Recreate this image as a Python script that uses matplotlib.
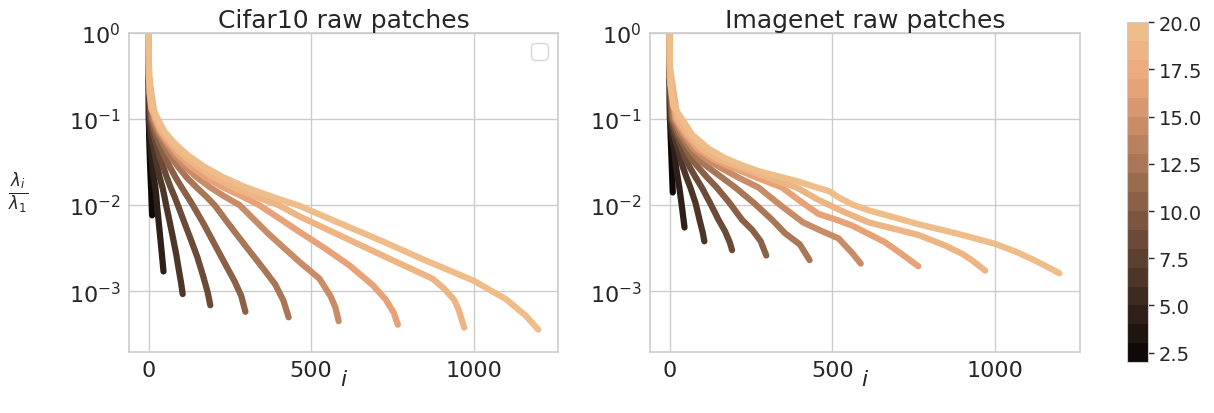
import colorsys
import numpy as np
import matplotlib
matplotlib.use("Agg")
import matplotlib.pyplot as plt
from matplotlib.colors import ListedColormap, BoundaryNorm
from matplotlib.cm import ScalarMappable

# patch sizes (p x p x 3 patches), one spectrum per size
patch_sizes = [2, 4, 6, 8, 10, 12, 14, 16, 18, 20]

# normalised eigenvalues lambda_i / lambda_1, sampled along each spectrum
cifar_idx = [
    [0, 1, 2, 4, 6, 8, 10, 11],
    [0, 1, 3, 6, 9, 12, 16, 21, 24, 26, 31, 36, 41, 46],
    [0, 1, 3, 7, 13, 20, 27, 34, 43, 49, 54, 65, 75, 85, 94, 100, 105],
    [0, 1, 6, 13, 23, 33, 45, 56, 68, 80, 90, 110, 130, 150, 168, 182, 190],
    [0, 1, 9, 19, 33, 48, 65, 83, 102, 120, 136, 170, 200, 235, 265, 285, 298],
    [0, 1, 12, 26, 45, 65, 90, 117, 148, 178, 203, 250, 300, 350, 390, 415, 431],
    [0, 1, 17, 32, 55, 80, 112, 148, 190, 235, 280, 370, 464, 526, 560, 575, 585],
    [0, 1, 20, 36, 62, 92, 130, 175, 230, 290, 340, 400, 464, 540, 618, 690, 730, 755, 767],
    [0, 1, 3, 9, 23, 40, 70, 105, 150, 200, 260, 330, 400, 464, 560, 720, 874, 910, 940, 955, 971],
    [0, 1, 3, 11, 28, 48, 80, 120, 170, 230, 300, 380, 464, 587, 720, 850, 1000, 1100, 1161, 1199],
]
cifar_val = [
    [1.0, 0.1, 0.06, 0.035, 0.022, 0.015, 0.0095, 0.0076],
    [1.0, 0.1, 0.072, 0.052, 0.038, 0.028, 0.021, 0.016, 0.0125, 0.010, 0.0065, 0.0042, 0.0027, 0.0017],
    [1.0, 0.3, 0.1, 0.072, 0.052, 0.038, 0.028, 0.021, 0.016, 0.0125, 0.010, 0.0064, 0.0042, 0.0027,
     0.0017, 0.00126, 0.00093],
    [1.0, 0.3, 0.1, 0.072, 0.052, 0.038, 0.028, 0.021, 0.016, 0.0125, 0.010, 0.0063, 0.004, 0.0025,
     0.0015, 0.00097, 0.00069],
    [1.0, 0.3, 0.1, 0.072, 0.052, 0.038, 0.028, 0.021, 0.016, 0.0125, 0.010, 0.006, 0.0037, 0.0021,
     0.0013, 0.00089, 0.00058],
    [1.0, 0.3, 0.1, 0.072, 0.052, 0.038, 0.028, 0.021, 0.016, 0.0125, 0.010, 0.0058, 0.0033, 0.0019,
     0.0012, 0.00078, 0.0005],
    [1.0, 0.3, 0.1, 0.072, 0.052, 0.038, 0.028, 0.021, 0.016, 0.0125, 0.010, 0.0046, 0.0022, 0.0014,
     0.00088, 0.00065, 0.00045],
    [1.0, 0.3, 0.1, 0.072, 0.052, 0.038, 0.028, 0.021, 0.016, 0.0125, 0.010, 0.0071, 0.0049, 0.0032,
     0.002, 0.00118, 0.0008, 0.00056, 0.00041],
    [1.0, 0.4, 0.2, 0.13, 0.1, 0.072, 0.052, 0.038, 0.028, 0.021, 0.016, 0.0125, 0.010, 0.0074, 0.005,
     0.0026, 0.0014, 0.00107, 0.0008, 0.0006, 0.00038],
    [1.0, 0.5, 0.25, 0.14, 0.1, 0.072, 0.052, 0.038, 0.028, 0.021, 0.016, 0.0125, 0.0098, 0.0062,
     0.0038, 0.0023, 0.00133, 0.00081, 0.00052, 0.00036],
]

imnet_idx = [
    [0, 1, 3, 6, 8, 10],
    [0, 1, 6, 14, 17, 20, 25, 30, 36, 43, 46],
    [0, 1, 3, 12, 26, 34, 41, 52, 64, 80, 94, 102, 107],
    [0, 1, 6, 19, 38, 50, 62, 80, 99, 125, 150, 170, 185, 192],
    [0, 1, 9, 25, 50, 68, 88, 115, 145, 185, 222, 255, 280, 297],
    [0, 1, 12, 32, 62, 88, 118, 160, 202, 260, 314, 355, 400, 430],
    [0, 1, 17, 40, 74, 112, 154, 210, 273, 340, 410, 457, 519, 560, 587],
    [0, 1, 20, 47, 86, 135, 190, 265, 345, 400, 457, 510, 560, 662, 713, 764],
    [0, 1, 25, 54, 98, 150, 215, 300, 390, 457, 530, 611, 690, 764, 846, 900, 928, 969],
    [0, 1, 3, 12, 38, 70, 120, 170, 222, 270, 324, 390, 447, 490, 519, 560, 611, 690, 764, 880,
     1000, 1071, 1130, 1197],
]
imnet_val = [
    [1.0, 0.15, 0.07, 0.035, 0.022, 0.014],
    [1.0, 0.1, 0.068, 0.045, 0.036, 0.0275, 0.021, 0.016, 0.011, 0.0068, 0.0055],
    [1.0, 0.3, 0.1, 0.068, 0.045, 0.034, 0.0275, 0.021, 0.016, 0.0105, 0.0063, 0.0048, 0.0038],
    [1.0, 0.3, 0.1, 0.068, 0.045, 0.034, 0.0275, 0.021, 0.016, 0.0105, 0.0068, 0.005, 0.0037, 0.003],
    [1.0, 0.3, 0.1, 0.068, 0.045, 0.034, 0.0275, 0.021, 0.016, 0.0105, 0.0068, 0.0051, 0.0038, 0.0026],
    [1.0, 0.3, 0.1, 0.068, 0.045, 0.034, 0.0275, 0.021, 0.016, 0.0105, 0.0068, 0.0047, 0.0035, 0.0023],
    [1.0, 0.3, 0.1, 0.068, 0.045, 0.034, 0.0275, 0.021, 0.016, 0.010, 0.0063, 0.0052, 0.0041, 0.0028,
     0.0021],
    [1.0, 0.3, 0.1, 0.068, 0.045, 0.034, 0.0275, 0.021, 0.016, 0.0112, 0.0079, 0.0068, 0.0058, 0.0037,
     0.0027, 0.00195],
    [1.0, 0.4, 0.1, 0.068, 0.045, 0.034, 0.0275, 0.021, 0.016, 0.0115, 0.0085, 0.0063, 0.0053, 0.0045,
     0.0034, 0.0027, 0.0023, 0.00174],
    [1.0, 0.5, 0.25, 0.14, 0.1, 0.065, 0.045, 0.035, 0.029, 0.025, 0.022, 0.019, 0.0162, 0.0145,
     0.0123, 0.0102, 0.0087, 0.0072, 0.006, 0.0047, 0.00355, 0.0028, 0.0022, 0.00162],
]

titles = ["Cifar10 raw patches", "Imagenet raw patches"]
cbar_bounds = list(range(2, 21))

# desaturated copper palette, 18 steps
def desat(c, prop=0.75):
    h, l, s = colorsys.rgb_to_hls(*c[:3])
    return colorsys.hls_to_rgb(h, l, s * prop)

copper = plt.get_cmap("copper")
n_col = len(cbar_bounds) - 1
steps = np.linspace(0, 1, n_col + 2)[1:-1]
palette = [desat(copper(x)) for x in steps]
cmap = ListedColormap(palette)
norm = BoundaryNorm(cbar_bounds, cmap.N)

grey = "#cccccc"
txt = "#262626"
plt.rcParams.update({
    "font.family": "DejaVu Sans",
    "text.color": txt,
    "axes.labelcolor": txt,
    "xtick.color": txt,
    "ytick.color": txt,
    "axes.edgecolor": grey,
    "grid.color": grey,
    "lines.solid_capstyle": "round",
    "lines.solid_joinstyle": "round",
})

fig = plt.figure(figsize=(12.14, 4.14), dpi=100)
ax1 = fig.add_axes([0.1063, 0.148, 0.3534, 0.771])
ax2 = fig.add_axes([0.5354, 0.148, 0.3542, 0.771])
cax = fig.add_axes([0.9283, 0.123, 0.0173, 0.821])

for ax, idx, val, title in [(ax1, cifar_idx, cifar_val, titles[0]),
                             (ax2, imnet_idx, imnet_val, titles[1])]:
    for p, xi, yi in zip(patch_sizes, idx, val):
        col = palette[min(p - 2, n_col - 1)]
        ax.plot(xi, yi, color=col, lw=4.5)
    ax.set_yscale("log")
    ax.set_ylim(10 ** -3.7, 1)
    ax.set_xlim(-60, 1260)
    ax.set_xticks([0, 500, 1000])
    ax.grid(True, color=grey, lw=1)
    ax.set_axisbelow(True)
    ax.tick_params(labelsize=16, length=0, pad=6)
    ax.tick_params(which="minor", length=0)
    ax.set_xlabel("$i$", fontsize=16, labelpad=-8)
    ax.set_title(title, fontsize=18, pad=4)
    for s in ax.spines.values():
        s.set_color(grey)
        s.set_linewidth(1.2)

ax1.set_ylabel(r"$\frac{\lambda_i}{\lambda_1}$", fontsize=17, rotation=0, labelpad=36, va="center")
ax1.legend(handles=[], loc="upper right", fontsize=15)

sm = ScalarMappable(norm=norm, cmap=cmap)
cb = fig.colorbar(sm, cax=cax, ticks=[2.5, 5, 7.5, 10, 12.5, 15, 17.5, 20])
cb.ax.set_yticklabels(["2.5", "5.0", "7.5", "10.0", "12.5", "15.0", "17.5", "20.0"])
cb.ax.tick_params(labelsize=14, length=4, width=1, color=txt)
cb.ax.tick_params(which="minor", length=0)
cb.outline.set_edgecolor(grey)
cb.ax.set_ylim(2, 20)

fig.savefig("out.png", dpi=100)
